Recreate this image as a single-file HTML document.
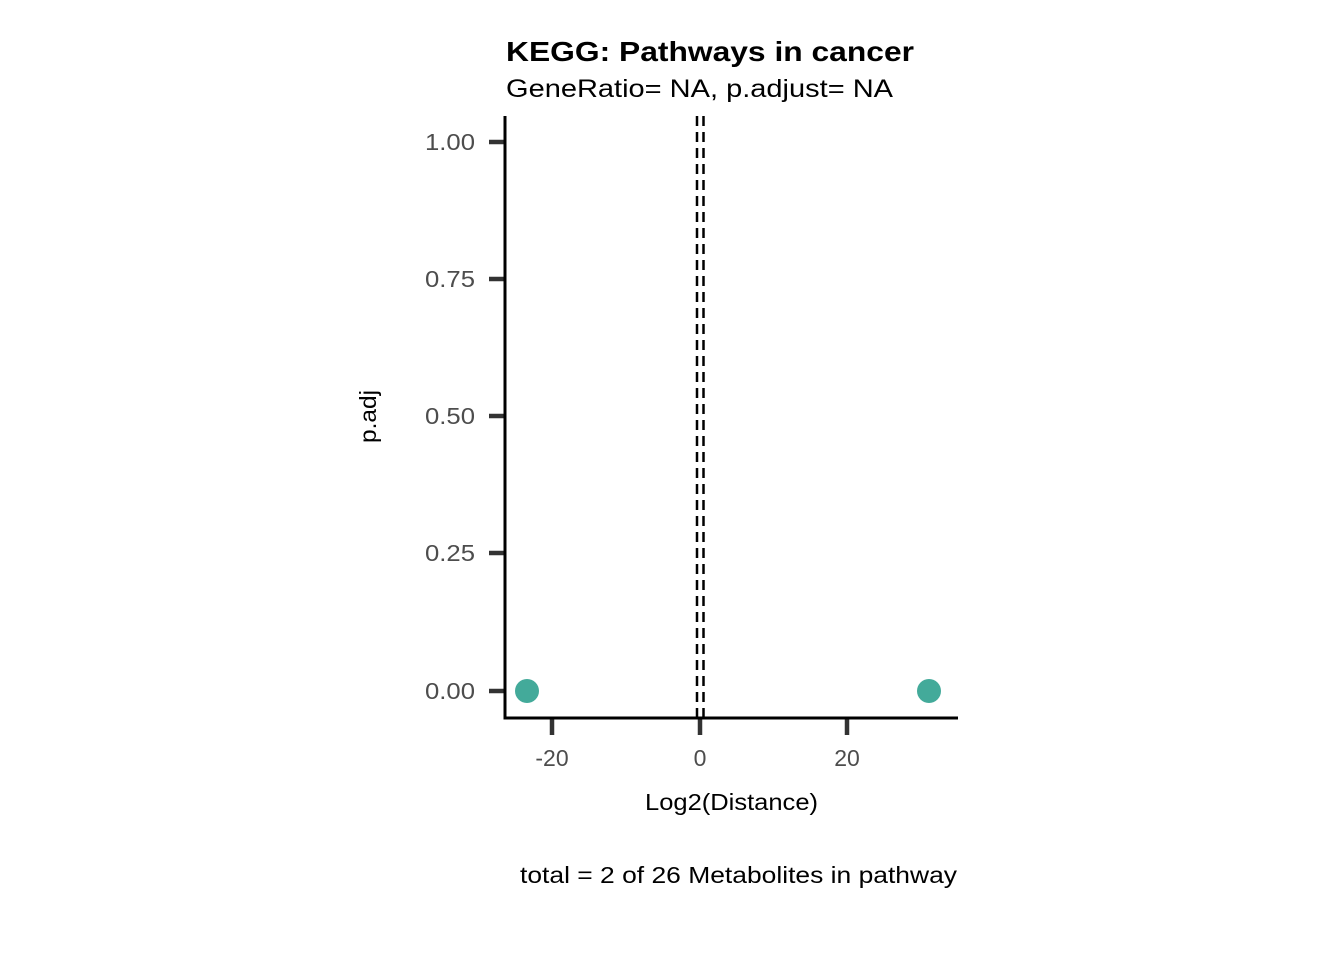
<!DOCTYPE html>
<html><head><style>body{margin:0;background:#fff}</style></head><body>
<svg width="1344" height="960" xmlns="http://www.w3.org/2000/svg" font-family="Liberation Sans, sans-serif">
<rect width="1344" height="960" fill="#fff"/>
<text x="506" y="61" font-size="28" font-weight="bold" textLength="408" lengthAdjust="spacingAndGlyphs">KEGG: Pathways in cancer</text>
<text x="506" y="97" font-size="25" textLength="387" lengthAdjust="spacingAndGlyphs">GeneRatio= NA, p.adjust= NA</text>
<g stroke="#333" stroke-width="4.5">
<line x1="489" y1="142" x2="505" y2="142"/><line x1="489" y1="279" x2="505" y2="279"/>
<line x1="489" y1="416" x2="505" y2="416"/><line x1="489" y1="553" x2="505" y2="553"/>
<line x1="489" y1="691" x2="505" y2="691"/>
<line x1="552" y1="718" x2="552" y2="735"/><line x1="700" y1="718" x2="700" y2="735"/>
<line x1="847" y1="718" x2="847" y2="735"/>
</g>
<g stroke="#000" stroke-width="2.5" stroke-dasharray="10,6">
<line x1="697" y1="116" x2="697" y2="718"/><line x1="703.5" y1="116" x2="703.5" y2="718"/>
</g>
<g stroke="#000" stroke-width="3">
<line x1="505" y1="116" x2="505" y2="719.5"/><line x1="503.5" y1="718" x2="958" y2="718"/>
</g>
<circle cx="527" cy="691" r="12" fill="#43AA9A"/>
<circle cx="929" cy="691" r="12" fill="#43AA9A"/>
<g font-size="23" fill="#4d4d4d">
<text x="425" y="150" textLength="50" lengthAdjust="spacingAndGlyphs">1.00</text>
<text x="425" y="287" textLength="50" lengthAdjust="spacingAndGlyphs">0.75</text>
<text x="425" y="424" textLength="50" lengthAdjust="spacingAndGlyphs">0.50</text>
<text x="425" y="561" textLength="50" lengthAdjust="spacingAndGlyphs">0.25</text>
<text x="425" y="699" textLength="50" lengthAdjust="spacingAndGlyphs">0.00</text>
</g>
<g font-size="23" fill="#4d4d4d" text-anchor="middle">
<text x="552" y="766">-20</text><text x="700" y="766">0</text><text x="847" y="766">20</text>
</g>
<text x="645" y="810" font-size="23" textLength="173" lengthAdjust="spacingAndGlyphs">Log2(Distance)</text>
<text transform="translate(376,443) rotate(-90)" font-size="23" textLength="53" lengthAdjust="spacingAndGlyphs">p.adj</text>
<text x="520" y="883" font-size="23" textLength="437" lengthAdjust="spacingAndGlyphs">total = 2 of 26 Metabolites in pathway</text>
</svg>
</body></html>
